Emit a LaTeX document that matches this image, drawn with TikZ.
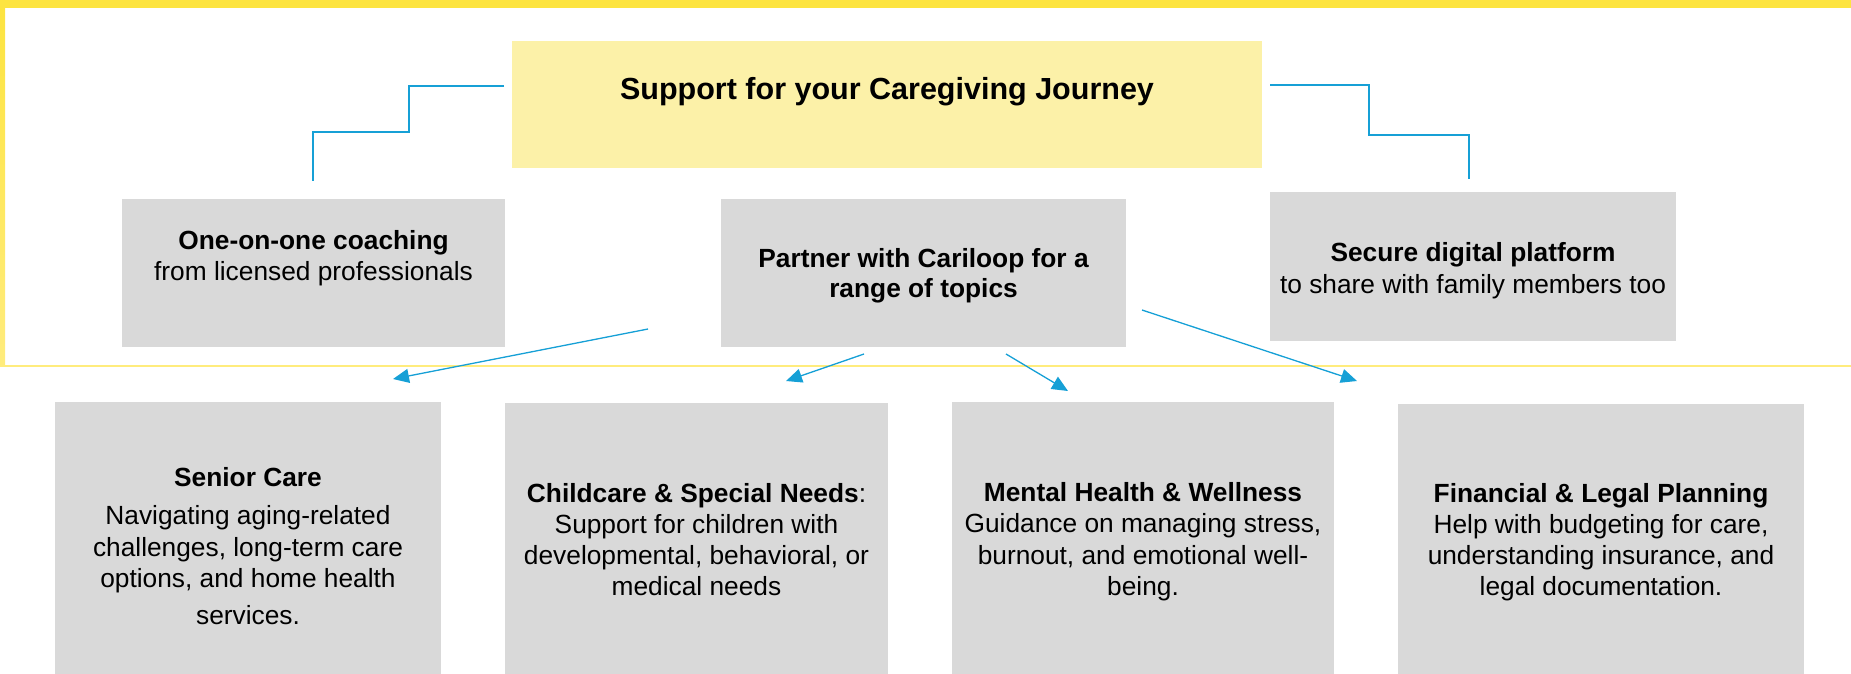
\documentclass[tikz,border=0pt]{standalone}
\usepackage{fontspec}
\setmainfont{Liberation Sans}
\usetikzlibrary{arrows.meta}

\definecolor{frameyellow}{RGB}{253,228,64}
\definecolor{framelight}{RGB}{255,236,125}
\definecolor{titlefill}{RGB}{252,241,168}
\definecolor{boxgray}{RGB}{217,217,217}
\definecolor{linkblue}{RGB}{22,160,214}

\begin{document}
\begin{tikzpicture}[x=1pt,y=-1pt,
  panel/.style={rectangle, draw=none, fill=boxgray, inner sep=0pt},
  headpanel/.style={panel, fill=titlefill},
  bodytext/.style={align=center, inner sep=0pt,
    font=\fontsize{26.3pt}{31pt}\selectfont},
  headtext/.style={align=center, inner sep=0pt,
    font=\fontsize{30.5pt}{36.6pt}\selectfont\bfseries},
  link/.style={draw=linkblue, line width=1.3pt},
  pointer/.style={link, -{Triangle[length=16pt, width=14pt]}, fill=linkblue}
]
\useasboundingbox (0,0) rectangle (1851,673);
\clip (0,0) rectangle (1851,673);

% yellow frame around the upper band
\fill[frameyellow] (0,0) rectangle (1851,8);
\shade[top color=frameyellow, bottom color=framelight] (0,8) rectangle (5,366);
\draw[framelight, line width=1.5pt] (0,366) -- (1851,366);

% headline
\node[headpanel, minimum width=750pt, minimum height=127pt] (head) at (887,104.5) {};
\node[headtext] (headlabel) at (887,91.7) {\strut Support for your Caregiving Journey};

% upper row
\node[panel, minimum width=383pt, minimum height=148pt] (coach) at (313.5,273) {};
\node[bodytext] (coachlabel) at (313.5,258.3)
  {\strut\textbf{One-on-one coaching}\\from licensed professionals\strut};

\node[panel, minimum width=405pt, minimum height=148pt] (partner) at (923.5,273) {};
\node[bodytext, font=\fontsize{26.3pt}{30pt}\selectfont\bfseries] (partnerlabel) at (923.5,276)
  {\strut Partner with Cariloop for a\\range of topics\strut};

\node[panel, minimum width=406pt, minimum height=149pt] (secure) at (1473,266.5) {};
\node[bodytext, font=\fontsize{26.3pt}{32pt}\selectfont] (securelabel) at (1473,270.6)
  {\strut\textbf{Secure digital platform}\\to share with family members too\strut};

% lower row
\node[panel, minimum width=386pt, minimum height=288pt] (senior) at (248,546) {};
\node[bodytext] (seniorlabel) at (248,548.8)
  {\strut\textbf{Senior Care}\\[7pt]Navigating aging-related\\[1pt]challenges, long-term care\\options, and home health\\[6pt]services.\strut};

\node[panel, minimum width=383pt, minimum height=288pt] (child) at (696.5,547) {};
\node[bodytext, font=\fontsize{26.3pt}{31.3pt}\selectfont] (childlabel) at (696.5,542.7)
  {\strut\textbf{Childcare \& Special Needs}:\\Support for children with\\developmental, behavioral, or\\medical needs\strut};

\node[panel, minimum width=382pt, minimum height=288pt] (mental) at (1143,546) {};
\node[bodytext, font=\fontsize{26.3pt}{31.3pt}\selectfont] (mentallabel) at (1143,542.2)
  {\strut\textbf{Mental Health \& Wellness}\\Guidance on managing stress,\\burnout, and emotional well-\\being.\strut};

\node[panel, minimum width=406pt, minimum height=288pt] (finance) at (1601,548) {};
\node[bodytext, font=\fontsize{26.3pt}{31.3pt}\selectfont] (financelabel) at (1601,542.7)
  {\strut\textbf{Financial \& Legal Planning}\\Help with budgeting for care,\\understanding insurance, and\\legal documentation.\strut};

% stepped connectors from the headline
\coordinate (headleft) at (504,86);
\coordinate (coachtop) at (313,181);
\coordinate (headright) at (1270,85);
\coordinate (securetop) at (1469,179);
\draw[link] (headleft) -- ++(-95,0) -- ++(0,46) -| (coachtop);
\draw[link] (headright) -- ++(99,0) -- ++(0,50) -| (securetop);

% arrows fanning out to the topic panels
\coordinate (fanA) at (648,329);  \coordinate (tipA) at (393,379);
\coordinate (fanB) at (864,354);  \coordinate (tipB) at (786,381);
\coordinate (fanC) at (1006,354); \coordinate (tipC) at (1068,391);
\coordinate (fanD) at (1142,310); \coordinate (tipD) at (1357,381);
\draw[pointer] (fanA) -- (tipA);
\draw[pointer] (fanB) -- (tipB);
\draw[pointer] (fanC) -- (tipC);
\draw[pointer] (fanD) -- (tipD);
\end{tikzpicture}
\end{document}
